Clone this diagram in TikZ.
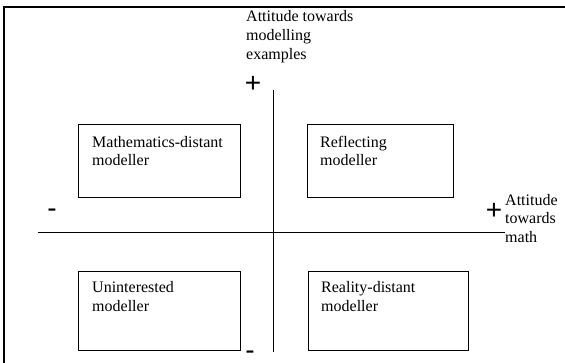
\documentclass[tikz,border=0pt]{standalone}
\usepackage{fontspec}
\setmainfont{Liberation Serif}
\newfontfamily\signfont{Liberation Sans}
\begin{document}
\begin{tikzpicture}[x=1pt,y=-1pt,
  quad/.style={draw, line width=1.3pt, inner sep=0pt, anchor=north west},
  lbl/.style={anchor=west, align=left, inner sep=0pt, font=\fontsize{16}{18.7}\selectfont},
  sign/.style={inner sep=0pt, font=\signfont\fontsize{28}{28}\selectfont},
  axis/.style={line width=1pt}]
\useasboundingbox (0,0) rectangle (565,363);
% frame
\coordinate (fb) at (4,363);
\coordinate (fc) at (4,7);
\coordinate (fr) at (565,7);
\draw[line width=1.5pt] (fb) -- (fc) -- (fr);
% axes
\coordinate (vt) at (273,90);
\coordinate (vb) at (273,352);
\coordinate (hl) at (38,232.5);
\coordinate (hr) at (505,232.5);
\draw[axis] (vt) -- (vb);
\draw[axis] (hl) -- (hr);
% quadrant boxes
\node[quad, minimum width=162pt, minimum height=73pt] (q1) at (78,124) {};
\node[quad, minimum width=146pt, minimum height=73pt] (q2) at (307,124) {};
\node[quad, minimum width=162pt, minimum height=79pt] (q3) at (78,271) {};
\node[quad, minimum width=160pt, minimum height=79pt] (q4) at (308,271) {};
\node[lbl] (t1) at (92,151) {Mathematics-distant\\modeller};
\node[lbl] (t2) at (320,151) {Reflecting\\modeller};
\node[lbl] (t3) at (92,296.5) {Uninterested\\modeller};
\node[lbl] (t4) at (321,296.5) {Reality-distant\\modeller};
% axis titles
\node[lbl] (ay) at (246,36.5) {Attitude towards\\modelling\\examples};
\node[lbl] (ax) at (505,218.5) {Attitude\\towards\\math};
% signs
\node[sign] (py) at (253,84) {+};
\node[sign] (px) at (494,211) {+};
\node[sign] (mx) at (52,213) {-};
\node[sign] (my) at (250,355.5) {-};
\end{tikzpicture}
\end{document}
